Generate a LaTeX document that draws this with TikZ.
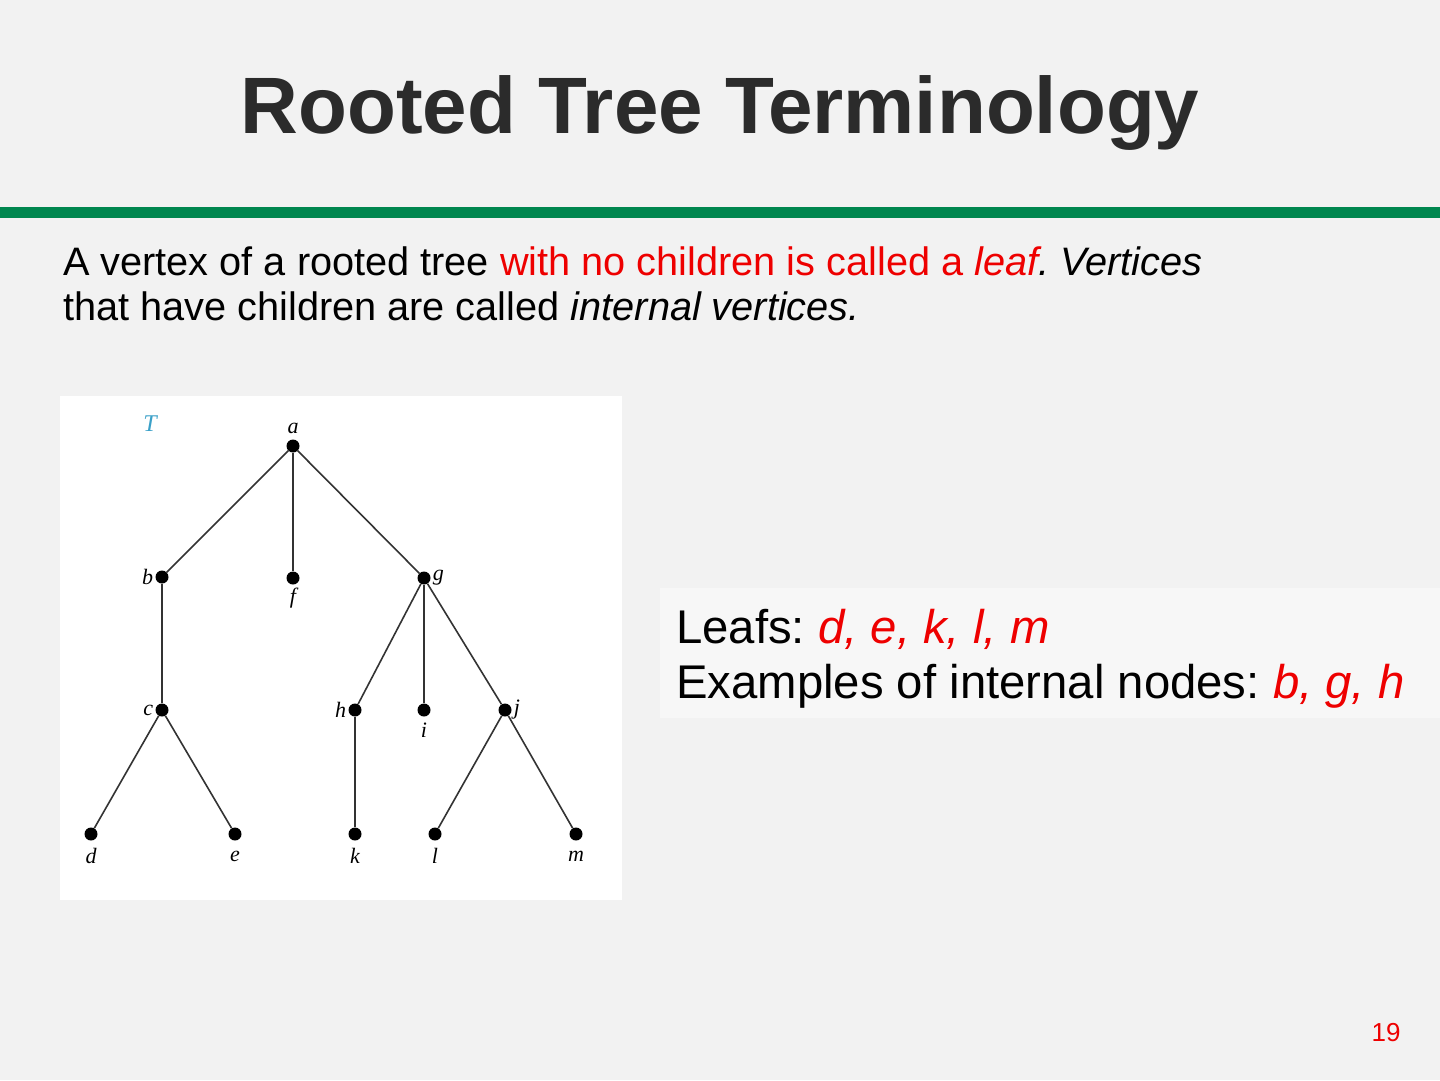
\documentclass[tikz,border=0pt]{standalone}
\usepackage{fontspec}
\setmainfont{Liberation Sans}
\newfontfamily\treefont{Liberation Serif}
\frenchspacing
\definecolor{bgc}{HTML}{F2F2F2}
\definecolor{barc}{HTML}{00874F}
\definecolor{titlec}{HTML}{2B2B2B}
\definecolor{redc}{HTML}{EE0000}
\definecolor{boxc}{HTML}{F7F7F7}
\definecolor{tc}{HTML}{3AA0C8}
\definecolor{edgec}{HTML}{333333}
\tikzset{
  vtx/.style={circle,fill=black,inner sep=0pt,minimum size=13pt},
  edge/.style={draw=edgec,line width=1.6pt},
  lbl/.style={font=\treefont\itshape\fontsize{22}{22}\selectfont,inner sep=0pt},
  txt/.style={anchor=base west,inner sep=0pt},
}
\begin{document}
\begin{tikzpicture}[x=1pt,y=-1pt]
\fill[bgc] (0,0) rectangle (1440,1080);
\useasboundingbox (0,0) rectangle (1440,1080);
% title
\node[font=\bfseries\fontsize{80}{80}\selectfont,text=titlec,anchor=base] (title) at (720,133) {Rooted Tree Terminology};
\fill[barc] (0,207) rectangle (1440,218);
% body text
\node[txt,font=\fontsize{39.7}{45}\selectfont] (body1) at (63,275)
 {A vertex of a rooted tree \textcolor{redc}{with no children is called a {\itshape leaf}}{\itshape. Vertices}};
\node[txt,font=\fontsize{39.7}{45}\selectfont] (body2) at (63,320)
 {that have children are called {\itshape internal vertices.}};
% tree image
\fill[white] (60,396) rectangle (622,900);
\node[font=\treefont\itshape\fontsize{24}{24}\selectfont,text=tc] (T) at (150,424) {T};
\foreach \n/\x/\y in {a/293/446,b/162/577,f/293/578,g/424/578,c/162/710,h/355/710,i/424/710,j/505/710,d/91/834,e/235/834,k/355/834,l/435/834,m/576/834}
  \node[vtx] (\n) at (\x,\y) {};
\foreach \u/\v in {a/b,a/f,a/g,b/c,c/d,c/e,g/h,g/i,g/j,h/k,j/l,j/m}
  \draw[edge] (\u) -- (\v);
\node[lbl] (la) at ([yshift=18pt]a.center) {a};
\node[lbl,anchor=east] (lb) at ([xshift=-2pt]b.west) {b};
\node[lbl] (lf) at ([yshift=-20pt]f.center) {f};
\node[lbl,anchor=west] (lg) at ([xshift=2pt]g.east) {g};
\node[lbl,anchor=east] (lc) at ([xshift=-2pt]c.west) {c};
\node[lbl,anchor=east] (lh) at ([xshift=-2pt]h.west) {h};
\node[lbl] (li) at ([yshift=-20pt]i.center) {i};
\node[lbl,anchor=west] (lj) at ([xshift=2pt]j.east) {j};
\foreach \n in {d,e,k,l,m}
  \node[lbl] (l\n) at ([yshift=-22pt]\n.center) {\n};
% leaf box
\fill[boxc] (660,588) rectangle (1440,718);
\node[txt,font=\fontsize{47.3}{55}\selectfont] (leafs) at (676,643)
 {Leafs: \textcolor{redc}{\itshape d, e, k, l, m}};
\node[txt,font=\fontsize{47.3}{55}\selectfont] (internal) at (676,698)
 {Examples of internal nodes: \textcolor{redc}{\itshape b, g, h}};
% page number
\node[font=\fontsize{26}{26}\selectfont,text=redc] (pg) at (1386,1033) {19};
\end{tikzpicture}
\end{document}
